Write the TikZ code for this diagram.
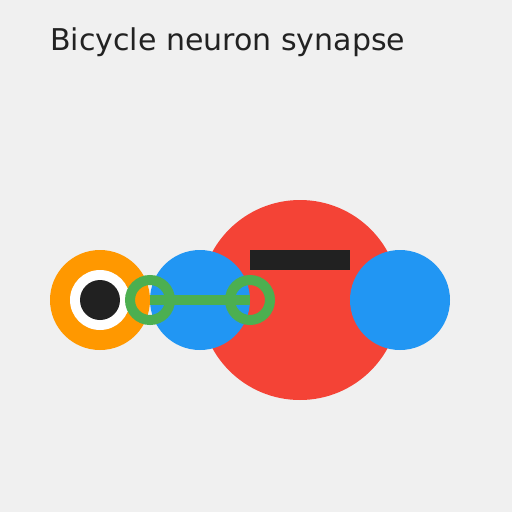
\documentclass[tikz,border=0pt]{standalone}
\usepackage{fontspec}
\setmainfont{DejaVu Sans}
\definecolor{bgc}{HTML}{F0F0F0}
\definecolor{titlec}{HTML}{222222}
\definecolor{orangec}{HTML}{FF9800}
\definecolor{darkc}{HTML}{212121}
\definecolor{redc}{HTML}{F44336}
\definecolor{bluec}{HTML}{2196F3}
\definecolor{greenc}{HTML}{4CAF50}
\begin{document}
\begin{tikzpicture}[x=1pt,y=-1pt,
  disc/.style={circle,inner sep=0pt,minimum size=#1},
  ringc/.style={circle,draw=greenc,line width=10pt,inner sep=0pt,minimum size=40pt}]
\fill[bgc] (0,0) rectangle (512,512);
\useasboundingbox (0,0) rectangle (512,512);
\node[anchor=base west,inner sep=0pt,text=titlec,font=\fontsize{30pt}{36pt}\selectfont] (title) at (50,50) {Bicycle neuron synapse};
\node[disc=100pt,fill=orangec] (tyre) at (100,300) {};
\node[disc=60pt,fill=white] (rim) at (100,300) {};
\node[disc=40pt,fill=darkc] (hub) at (100,300) {};
\node[disc=200pt,fill=redc] (soma) at (300,300) {};
\fill[darkc] (250,250) rectangle (350,270);
\node[disc=100pt,fill=bluec] (bl) at (200,300) {};
\node[disc=100pt,fill=bluec] (br) at (400,300) {};
\node[ringc] (r1) at (150,300) {};
\node[ringc] (r2) at (250,300) {};
\draw[greenc,line width=10pt] (r1.center) -- (r2.center);
\end{tikzpicture}
\end{document}
